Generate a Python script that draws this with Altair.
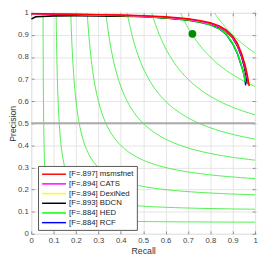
import altair as alt
import numpy as np
import pandas as pd

# ---- data ----
methods = ["[F=.897] msmsfnet", "[F=.894] CATS", "[F=.894] DexiNed",
           "[F=.893] BDCN", "[F=.884] HED", "[F=.884] RCF"]
colors = ["#ff0000", "#ff00ff", "#ffff00", "#000000", "#00ff00", "#0000ff"]

r_msms = [0, 0.1, 0.2, 0.3, 0.4, 0.5, 0.6, 0.7, 0.75, 0.8, 0.84, 0.87, 0.9, 0.92, 0.94, 0.955, 0.965, 0.974]
p_msms = [0.997, 0.995, 0.994, 0.992, 0.99, 0.987, 0.982, 0.973, 0.966, 0.955, 0.941, 0.923, 0.894, 0.864, 0.815, 0.765, 0.72, 0.668]
r_cats = [0, 0.1, 0.2, 0.3, 0.4, 0.5, 0.6, 0.7, 0.75, 0.8, 0.84, 0.87, 0.9, 0.92, 0.94, 0.955, 0.962, 0.97]
p_cats = [0.996, 0.994, 0.993, 0.991, 0.989, 0.986, 0.98, 0.971, 0.963, 0.952, 0.937, 0.918, 0.888, 0.856, 0.806, 0.755, 0.72, 0.675]
r_dexi = [0, 0.1, 0.2, 0.3, 0.4, 0.5, 0.6, 0.7, 0.75, 0.8, 0.84, 0.87, 0.9, 0.92, 0.94, 0.955, 0.964, 0.972]
p_dexi = [0.996, 0.994, 0.992, 0.99, 0.988, 0.985, 0.979, 0.97, 0.962, 0.951, 0.937, 0.918, 0.889, 0.858, 0.81, 0.76, 0.72, 0.672]
r_bdcn = [0, 0.02, 0.1, 0.2, 0.3, 0.4, 0.5, 0.6, 0.7, 0.75, 0.8, 0.84, 0.87, 0.9, 0.92, 0.94, 0.952, 0.96, 0.965]
p_bdcn = [0.972, 0.982, 0.986, 0.987, 0.986, 0.985, 0.983, 0.978, 0.969, 0.961, 0.95, 0.935, 0.916, 0.886, 0.852, 0.8, 0.755, 0.715, 0.68]
r_hed = [0, 0.1, 0.2, 0.3, 0.4, 0.5, 0.6, 0.7, 0.75, 0.8, 0.84, 0.87, 0.9, 0.92, 0.935, 0.945, 0.952, 0.956]
p_hed = [0.995, 0.993, 0.991, 0.989, 0.987, 0.983, 0.977, 0.966, 0.958, 0.946, 0.929, 0.905, 0.862, 0.82, 0.775, 0.74, 0.71, 0.688]
r_rcf = [0, 0.1, 0.2, 0.3, 0.4, 0.5, 0.6, 0.7, 0.75, 0.8, 0.84, 0.87, 0.9, 0.92, 0.935, 0.947, 0.954, 0.958]
p_rcf = [0.995, 0.993, 0.991, 0.989, 0.987, 0.983, 0.977, 0.967, 0.958, 0.946, 0.928, 0.904, 0.86, 0.818, 0.772, 0.735, 0.7, 0.672]

human_r = [0.72]
human_p = [0.905]

iso_f = [0.1, 0.2, 0.3, 0.4, 0.5, 0.6, 0.7, 0.8, 0.9]
tick_count = 10
half_level = [0.5]

# ---- assemble tables ----
curves = [(r_rcf, p_rcf, methods[5]), (r_hed, p_hed, methods[4]),
          (r_bdcn, p_bdcn, methods[3]), (r_dexi, p_dexi, methods[2]),
          (r_cats, p_cats, methods[1]), (r_msms, p_msms, methods[0])]
rows = []
for k, (rs, ps, name) in enumerate(curves):
    for i, (r, p) in enumerate(zip(rs, ps)):
        rows.append({"method": name, "recall": r, "precision": p, "i": i, "z": k})
pr = pd.DataFrame(rows)

iso_rows = []
for f in iso_f:
    r0 = f / (2 - f)
    t = np.linspace(0, 1, 90)
    rr = r0 + (1 - r0) * t ** 2
    for i, r in enumerate(rr):
        iso_rows.append({"f": f, "recall": r, "precision": f * r / (2 * r - f), "i": i})
iso = pd.DataFrame(iso_rows)

human = pd.DataFrame({"recall": human_r, "precision": human_p})
half = pd.DataFrame({"precision": half_level})

W, H = 231, 228
xs = alt.Scale(domain=[0, 1], nice=False, zero=False)
ys = alt.Scale(domain=[0, 1], nice=False, zero=False)

X = alt.X("recall:Q", scale=xs, title="Recall")
Y = alt.Y("precision:Q", scale=ys, title="Precision")

iso_layer = alt.Chart(iso).mark_line(color="#4ef04e", strokeWidth=1, clip=True).encode(
    x=X, y=Y, detail="f:N", order="i:Q")

half_layer = alt.Chart(half).mark_rule(color="#aaaaaa", strokeWidth=2).encode(y=Y)

pr_layer = alt.Chart(pr).mark_line(strokeWidth=1.5, clip=True).encode(
    x=X, y=Y,
    color=alt.Color("method:N", scale=alt.Scale(domain=methods, range=colors),
                    sort=methods,
                    legend=alt.Legend(title=None, orient="none", legendX=7, legendY=158,
                                      symbolType="M-2.6,0H2.6", symbolSize=90,
                                      symbolOffset=8,
                                      symbolStrokeWidth=1.5, labelFontSize=8,
                                      labelFont="Liberation Sans", labelColor="#222222",
                                      labelOffset=10, rowPadding=0, padding=3,
                                      fillColor="white", strokeColor="#555555")),
    detail="z:N",
    order="i:Q")

human_layer = alt.Chart(human).mark_point(filled=True, color="#008c00", size=64,
                                          opacity=1).encode(x=X, y=Y)

main = alt.layer(iso_layer, half_layer, pr_layer, human_layer)

# invisible layer that only carries the inward ticks of the top and right edges
side = alt.Chart(human).mark_point(opacity=0).encode(
    x=alt.X("recall:Q", scale=xs,
            axis=alt.Axis(orient="top", labels=False, title=None, grid=False)),
    y=alt.Y("precision:Q", scale=ys,
            axis=alt.Axis(orient="right", labels=False, title=None, grid=False)))

chart = alt.layer(main, side).resolve_scale(x="independent", y="independent").properties(
    width=W, height=H,
    autosize=alt.AutoSizeParams(type="none"),
    padding={"left": 24, "top": 1, "right": 3, "bottom": 22},
).configure_view(stroke="#8a8a8a", strokeWidth=1).configure(
    background="white"
).configure_axis(
    tickCount=tick_count, format="~g", domain=False, tickSize=3, offset=-3,
    tickColor="#888888", labelFontSize=8, labelColor="#444444",
    labelFont="Liberation Sans", titleFont="Liberation Sans",
    titleFontSize=9, titleFontWeight="normal", titleColor="#333333",
    labelOverlap=False, labelFlush=False, labelPadding=3,
    grid=True, gridColor="#e4e4e4", gridWidth=1
).configure_axisX(titlePadding=2).configure_axisLeft(
    titleX=-17.5, titleY=H / 2, titleAngle=270, titleAlign="center", titleBaseline="bottom")

chart.save("out.html", embed_options={"renderer": "svg", "actions": False})
